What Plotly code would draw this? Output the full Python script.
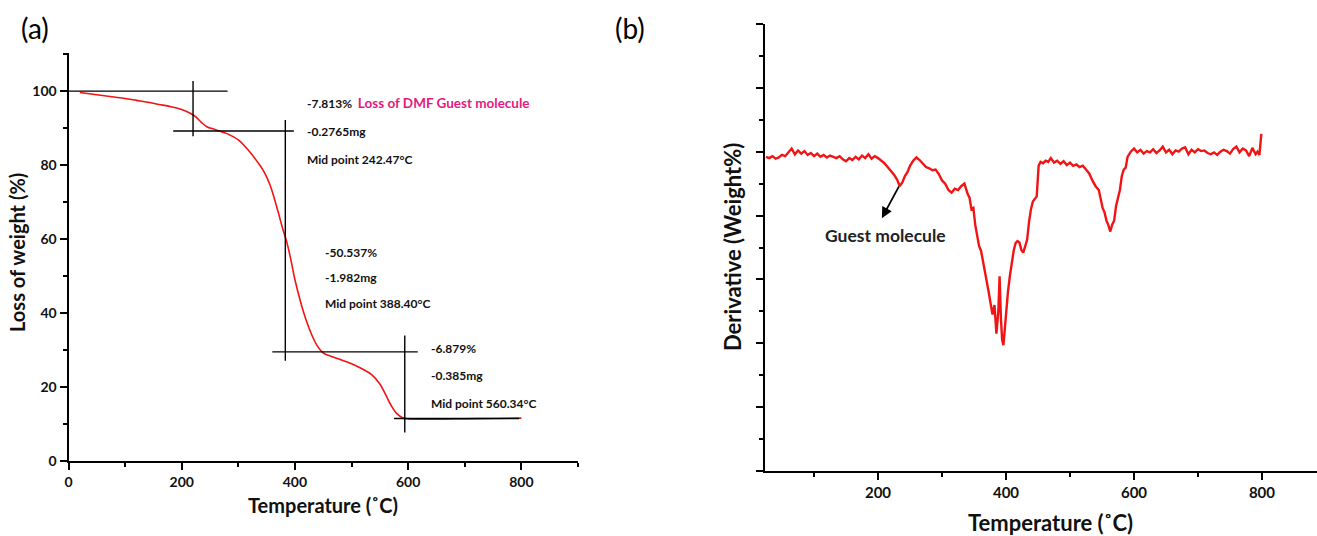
import plotly.graph_objects as go

# ---------------- data: panel (a) TGA ----------------
tga_temp = [20, 40, 60, 80, 100, 120, 140, 160, 180, 200, 215, 225, 235, 245, 255, 265,
            280, 300, 320, 335, 345, 355, 362, 370, 378, 385, 392, 400, 410, 420, 430,
            440, 450, 460, 475, 500, 520, 535, 550, 560, 570, 580, 590, 600, 650, 700,
            750, 800]
tga_weight = [99.6, 99.2, 98.8, 98.4, 98.0, 97.5, 97.0, 96.4, 95.8, 95.0, 94.0, 93.0,
              91.5, 90.3, 89.8, 89.3, 88.5, 86.8, 83.6, 80.6, 78.3, 75.0, 71.8, 67.5,
              63.0, 59.5, 55.0, 49.0, 43.0, 38.0, 34.0, 31.0, 29.2, 28.5, 27.7, 26.3,
              24.8, 23.4, 20.8, 18.0, 15.0, 12.8, 11.7, 11.4, 11.3, 11.4, 11.5, 11.6]

# onset construction lines (x in degC, y in %), one pair per segment
onset_x = [(0, 281), (220, 220), (185, 398), (383, 383), (360, 617), (594, 594), (575, 796)]
onset_y = [(100, 100), (102.7, 87.8), (89.2, 89.2), (92.2, 27.1), (29.5, 29.5), (33.9, 7.7),
           (11.5, 11.5)]

# step annotations: (x, y, text)
step_x = [417, 417, 417, 450, 450, 450, 636, 636, 636]
step_y = [96.7, 89.2, 81.6, 56.3, 49.5, 42.5, 30.4, 23.1, 15.6]
step_text = ["-7.813%  <span style='color:#E4197F;font-size:13.5px'>Loss of DMF Guest molecule</span>",
             "-0.2765mg", "Mid point 242.47°C",
             "-50.537%", "-1.982mg", "Mid point 388.40°C",
             "-6.879%", "-0.385mg", "Mid point 560.34°C"]

# ---------------- data: panel (b) DTG ----------------
deriv_temp = [
    25, 30, 35, 40, 45, 50, 55, 60, 65, 70,
    75, 80, 85, 90, 95, 100, 105, 110, 115, 120,
    125, 130, 135, 140, 145, 150, 155, 160, 165, 170,
    175, 180, 185, 190, 195, 200, 205, 210, 215, 220,
    225, 230, 234, 238, 242, 246, 250, 255, 260, 265,
    270, 275, 280, 285, 290, 295, 300, 305, 310, 315,
    320, 325, 330, 335, 340, 343, 346, 349, 352, 355,
    358, 361, 364, 367, 370, 373, 376, 379, 382, 385,
    388, 390, 392, 394, 396, 398, 400, 403, 406, 409,
    412, 415, 418, 421, 424, 427, 430, 433, 436, 439,
    442, 445, 448, 451, 454, 458, 462, 466, 470, 475,
    480, 485, 490, 495, 500, 505, 510, 515, 520, 525,
    530, 535, 540, 545, 548, 551, 554, 557, 560, 563,
    566, 569, 572, 575, 578, 581, 584, 587, 590, 595,
    600, 605, 610, 615, 620, 625, 630, 635, 640, 645,
    650, 655, 660, 665, 670, 675, 680, 685, 690, 695,
    700, 705, 710, 715, 720, 725, 730, 735, 740, 745,
    750, 755, 760, 765, 770, 775, 780, 785, 790, 793,
    796, 799]
deriv_value = [
    4.92, 4.90, 4.93, 4.89, 4.91, 4.95, 4.93, 4.99, 5.05, 4.96,
    5.02, 4.97, 5.01, 4.95, 4.98, 4.93, 4.97, 4.92, 4.95, 4.91,
    4.94, 4.92, 4.90, 4.93, 4.88, 4.85, 4.90, 4.87, 4.92, 4.88,
    4.94, 4.90, 4.96, 4.89, 4.93, 4.90, 4.86, 4.82, 4.76, 4.70,
    4.64, 4.56, 4.46, 4.52, 4.62, 4.68, 4.78, 4.86, 4.91, 4.87,
    4.82, 4.76, 4.74, 4.71, 4.72, 4.65, 4.55, 4.50, 4.40, 4.36,
    4.42, 4.40, 4.46, 4.50, 4.34, 4.28, 4.10, 4.12, 3.85, 3.65,
    3.52, 3.45, 3.30, 3.15, 3.00, 2.80, 2.62, 2.45, 2.60, 2.15,
    2.50, 3.05, 2.40, 2.05, 1.97, 2.20, 2.55, 2.80, 3.05, 3.28,
    3.45, 3.57, 3.60, 3.58, 3.46, 3.42, 3.52, 3.62, 3.90, 4.10,
    4.22, 4.26, 4.30, 4.78, 4.84, 4.82, 4.86, 4.84, 4.90, 4.83,
    4.86, 4.81, 4.85, 4.79, 4.83, 4.78, 4.80, 4.76, 4.78, 4.72,
    4.66, 4.55, 4.46, 4.40, 4.25, 4.12, 4.05, 3.92, 3.85, 3.75,
    3.86, 3.92, 4.15, 4.28, 4.40, 4.62, 4.72, 4.75, 4.92, 5.00,
    5.05, 4.99, 5.03, 4.97, 5.01, 4.99, 5.04, 4.98, 5.02, 5.08,
    4.99, 5.03, 4.96, 5.02, 5.00, 5.05, 5.07, 4.96, 5.03, 4.99,
    5.04, 5.01, 5.02, 4.98, 4.96, 4.99, 4.95, 5.00, 5.03, 5.01,
    4.97, 5.04, 5.08, 4.99, 5.05, 5.02, 4.93, 5.06, 4.96, 5.00,
    4.95, 5.28]

# guest-molecule arrow: tail (on curve dip) and head
arrow_tail = (234, 4.48)
arrow_head = (206, 3.96)
label_pos = (212, 3.69)

FONT = "Lato"
RED = "#F01414"

fig = go.Figure()

fig.add_trace(go.Scatter(x=tga_temp, y=tga_weight, mode="lines",
                         line=dict(color=RED, width=1.6, shape="spline"),
                         xaxis="x", yaxis="y", showlegend=False, hoverinfo="skip"))

sx, sy = [], []
for (x0, x1), (y0, y1) in zip(onset_x, onset_y):
    sx += [x0, x1, None]
    sy += [y0, y1, None]
fig.add_trace(go.Scatter(x=sx, y=sy, mode="lines", line=dict(color="black", width=1.4),
                         xaxis="x", yaxis="y", showlegend=False, hoverinfo="skip"))

fig.add_trace(go.Scatter(x=deriv_temp, y=deriv_value, mode="lines", line=dict(color=RED, width=2.4),
                         xaxis="x2", yaxis="y2", showlegend=False, hoverinfo="skip"))

W, H = 1317, 536


def axis_style(size):
    return dict(showline=True, linecolor="black", linewidth=2, showgrid=False, zeroline=False,
                automargin=False, ticks="outside", ticklen=7, tickwidth=1.5, tickcolor="black",
                tickfont=dict(family=FONT, size=size, color="#111", weight="bold"))


def minor(d):
    return dict(ticks="outside", ticklen=4, tickwidth=1.5, tickcolor="black", dtick=d)


fig.update_layout(
    template="none",
    width=W, height=H, margin=dict(l=0, r=0, t=0, b=0, autoexpand=False),
    paper_bgcolor="white", plot_bgcolor="white",
    xaxis=dict(domain=[68.5 / W, 578 / W], range=[0, 900], dtick=200, tick0=0, minor=minor(100),
               anchor="y", **axis_style(14)),
    yaxis=dict(domain=[1 - 461 / H, 1 - 53 / H], range=[0, 110.3], dtick=20, tick0=0, minor=minor(10),
               anchor="x", **axis_style(14)),
    xaxis2=dict(domain=[765 / W, 1.0], range=[23.4, 886], dtick=200, tick0=0, minor=minor(100),
                anchor="y2", **axis_style(15)),
    yaxis2=dict(domain=[1 - 471 / H, 1 - 24 / H], range=[0, 7], dtick=1, tick0=0, showticklabels=False,
                minor=minor(0.5), anchor="x2", **axis_style(15)),
)

ann = []
for x, y, t in zip(step_x, step_y, step_text):
    ann.append(dict(x=x, y=y, xref="x", yref="y", text=t, showarrow=False, xanchor="left", yanchor="middle",
                    font=dict(family=FONT, size=12, color="#111", weight="bold")))

# axis titles and panel labels
ann += [
    dict(x=323 / W, y=1 - 505 / H, xref="paper", yref="paper", text="Temperature (˚C)", showarrow=False,
         font=dict(family=FONT, size=20, color="#111", weight="bold"), xanchor="center", yanchor="middle"),
    dict(x=17 / W, y=1 - 253 / H, xref="paper", yref="paper", text="Loss of weight (%)", showarrow=False,
         textangle=-90, font=dict(family=FONT, size=20, color="#111", weight="bold"),
         xanchor="center", yanchor="middle"),
    dict(x=1050 / W, y=1 - 522 / H, xref="paper", yref="paper", text="Temperature (˚C)", showarrow=False,
         font=dict(family=FONT, size=22, color="#111", weight="bold"), xanchor="center", yanchor="middle"),
    dict(x=733 / W, y=1 - 247 / H, xref="paper", yref="paper", text="Derivative (Weight%)", showarrow=False,
         textangle=-90, font=dict(family=FONT, size=22, color="#111", weight="bold"),
         xanchor="center", yanchor="middle"),
    dict(x=35 / W, y=1 - 28 / H, xref="paper", yref="paper", text="(a)", showarrow=False,
         font=dict(family=FONT, size=28, color="black"), xanchor="center", yanchor="middle"),
    dict(x=630 / W, y=1 - 28 / H, xref="paper", yref="paper", text="(b)", showarrow=False,
         font=dict(family=FONT, size=28, color="black"), xanchor="center", yanchor="middle"),
    dict(x=arrow_head[0], y=arrow_head[1], ax=arrow_tail[0], ay=arrow_tail[1], xref="x2", yref="y2",
         axref="x2", ayref="y2", text="", showarrow=True, arrowhead=2, arrowsize=1.2, arrowwidth=1.8,
         arrowcolor="black"),
    dict(x=label_pos[0], y=label_pos[1], xref="x2", yref="y2", text="Guest molecule", showarrow=False,
         font=dict(family=FONT, size=17.5, color="#222", weight="bold"), xanchor="center", yanchor="middle"),
]
fig.update_layout(annotations=ann)

fig.write_html("out.html")
